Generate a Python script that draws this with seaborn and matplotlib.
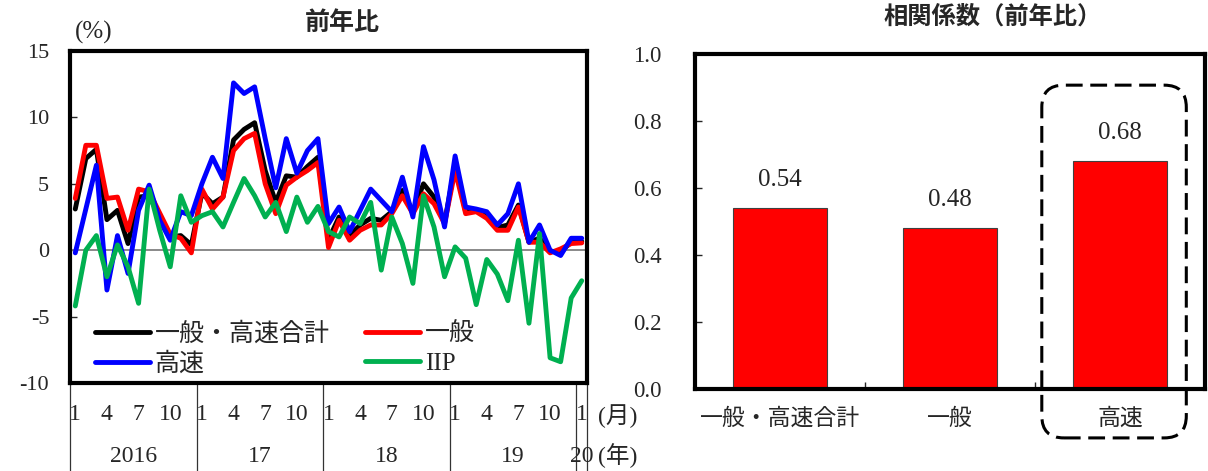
import numpy as np
import pandas as pd
import matplotlib
matplotlib.use("Agg")
import matplotlib.pyplot as plt
import seaborn as sns
from matplotlib.lines import Line2D
from matplotlib.patches import FancyBboxPatch
from matplotlib.transforms import blended_transform_factory, IdentityTransform

# ---- data: year-on-year change (%), Jan 2016 - Jan 2020 ----
SERIES_NAMES = ["一般・高速合計", "一般", "高速", "IIP"]
SERIES_COLORS = ["#000000", "#FF0000", "#0000FF", "#00B050"]

total = [3.1, 6.9, 7.6, 2.3, 3.0, 0.5, 4.0, 4.1, 2.5, 1.0, 1.1, 0.4,
         4.3, 3.5, 4.0, 8.3, 9.1, 9.6, 6.0, 3.6, 5.6, 5.5, 6.3, 7.0,
         0.8, 2.5, 1.1, 1.9, 2.4, 2.25, 2.9, 4.5, 2.9, 5.0, 4.0, 2.1,
         6.4, 2.9, 3.0, 2.6, 1.7, 1.9, 3.4, 0.6, 0.9, -0.1, -0.1, 0.6,
         0.65]
general = [3.9, 7.9, 7.9, 3.9, 4.0, 1.5, 4.6, 4.4, 2.8, 1.2, 0.9, -0.2,
           4.6, 3.1, 4.0, 7.5, 8.4, 8.8, 5.0, 2.75, 4.9, 5.5, 6.0, 6.6,
           0.2, 2.25, 0.75, 1.5, 1.9, 1.9, 2.75, 4.1, 2.75, 4.25, 3.5, 2.0,
           6.0, 2.75, 2.9, 2.4, 1.5, 1.5, 3.25, 0.6, 0.6, -0.2, 0.1, 0.5,
           0.55]
expressway = [-0.2, 3.1, 6.4, -3.0, 1.1, -1.75, 3.0, 4.9, 2.25, 0.75, 2.9, 2.6,
              5.0, 7.0, 5.4, 12.6, 11.8, 12.3, 8.4, 4.7, 8.4, 5.8, 7.5, 8.4,
              2.0, 3.25, 1.4, 3.0, 4.6, 3.75, 2.9, 5.5, 2.5, 7.8, 5.3, 1.75,
              7.1, 3.25, 3.1, 2.9, 1.9, 2.75, 5.0, 0.6, 1.9, 0.0, -0.4, 0.9,
              0.9]
iip = [-4.2, 0.0, 1.1, -2.0, 0.4, -1.25, -4.0, 4.6, 1.5, -1.25, 4.1, 2.1,
       2.6, 2.9, 1.75, 3.6, 5.4, 4.1, 2.5, 3.6, 1.4, 4.0, 2.1, 3.3,
       1.4, 1.0, 2.5, 2.0, 3.6, -1.5, 2.5, 0.5, -2.5, 4.1, 1.75, -2.0,
       0.25, -0.6, -4.1, -0.7, -1.8, -3.8, 0.75, -5.5, 1.25, -8.1, -8.4, -3.6,
       -2.3]

YEAR_LABELS = ["2016", "17", "18", "19", "20"]
MONTH_LABELS = ["1", "4", "7", "10"]
YTICKS = [-10, -5, 0, 5, 10, 15]
YTICK_LABELS = ["-10", "-5", "0", "5", "10", "15"]

# ---- data: correlation coefficients with IIP ----
CORR_LABELS = ["一般・高速合計", "一般", "高速"]
CORR_VALUES = [0.54, 0.48, 0.68]
CORR_TICKS = [0.0, 0.2, 0.4, 0.6, 0.8, 1.0]

# ---- style ----
sns.set_style("white")
plt.rcParams["font.family"] = ["Liberation Serif", "Noto Sans CJK JP"]
plt.rcParams["axes.unicode_minus"] = False

W, H = 1208, 471
fig = plt.figure(figsize=(W / 100, H / 100), dpi=100)
ax1 = fig.add_axes([70 / W, 1 - 383 / H, (587 - 70) / W, (383 - 51) / H])
ax2 = fig.add_axes([695 / W, 1 - 389 / H, (1205 - 695) / W, (389 - 54) / H])

# ---- left: monthly lines ----
n = len(total)
df = pd.DataFrame({
    "t": np.tile(np.arange(n), 4),
    "v": np.concatenate([total, general, expressway, iip]),
    "s": np.repeat(SERIES_NAMES, n),
})
ax1.axhline(0, color="#808080", lw=1.3, zorder=1)
sns.lineplot(data=df, x="t", y="v", hue="s", hue_order=SERIES_NAMES,
             palette=SERIES_COLORS, linewidth=3.5, estimator=None, sort=False,
             legend=False, ax=ax1)

ax1.set_xlim(-0.5, n - 0.5)
ax1.set_ylim(-10, 15)
ax1.set_xlabel("")
ax1.set_ylabel("")
ax1.set_yticks(YTICKS, labels=YTICK_LABELS)
ax1.tick_params(axis="y", direction="in", length=5, width=1, pad=15,
                labelsize=16, left=True)

n_years = len(YEAR_LABELS)
month_pos = [12 * y + m for y in range(n_years) for m in (0, 3, 6, 9) if 12 * y + m < n]
month_lab = [MONTH_LABELS[(p % 12) // 3] for p in month_pos]
ax1.set_xticks(month_pos, labels=month_lab)
ax1.tick_params(axis="x", length=0, pad=15, labelsize=17)

for sp in ax1.spines.values():
    sp.set_linewidth(3)
    sp.set_color("black")

# year separators and year labels below the axis
trans1 = blended_transform_factory(ax1.transData, ax1.transAxes)
edges = [12 * y - 0.5 for y in range(n_years)] + [n - 0.5]
for e in edges:
    ax1.plot([e, e], [0, -0.3], transform=trans1, color="#333333", lw=0.9,
             clip_on=False)
for k, lab in enumerate(YEAR_LABELS):
    c = (edges[k] + edges[k + 1]) / 2
    ax1.text(c, -0.22, lab, transform=trans1, ha="center", va="center",
             fontsize=17)
ax1.text(1.06, -0.10, "(月)", transform=ax1.transAxes, ha="center",
         va="center", fontsize=17)
ax1.text(1.06, -0.22, "(年)", transform=ax1.transAxes, ha="center",
         va="center", fontsize=17)
ax1.text(0.045, 1.055, "(%)", transform=ax1.transAxes, ha="center",
         va="center", fontsize=18)

handles = [Line2D([], [], color=c, lw=3.5) for c in SERIES_COLORS]
order = [0, 2, 1, 3]
ax1.legend([handles[i] for i in order], [SERIES_NAMES[i] for i in order],
           ncol=2, loc="lower left", bbox_to_anchor=(0.048, 0.022),
           frameon=False, fontsize=18, handlelength=2.2, handletextpad=0.2,
           columnspacing=1.4, labelspacing=0.26, borderaxespad=0.0,
           borderpad=0.0)

fig.text(342 / W, 1 - 23 / H, "前年比", ha="center", va="center",
         fontsize=18, fontweight="bold", family=["Noto Sans CJK JP"])

# ---- right: correlation bars ----
sns.barplot(x=CORR_LABELS, y=CORR_VALUES, color="#FF0000", saturation=1,
            width=0.55, edgecolor="#404040", linewidth=0.8, ax=ax2)
ax2.set_xlim(-0.5, len(CORR_VALUES) - 0.5)
ax2.set_ylim(0, 1)
ax2.set_xlabel("")
ax2.set_ylabel("")
ax2.set_yticks(CORR_TICKS, labels=[f"{t:.1f}" for t in CORR_TICKS])
ax2.tick_params(axis="y", direction="in", length=5, width=1, pad=24,
                labelsize=16.5, left=True)
ax2.tick_params(axis="x", which="major", length=0, pad=14, labelsize=16.5)
ax2.set_xticks([i + 0.5 for i in range(len(CORR_VALUES) - 1)], minor=True)
ax2.tick_params(axis="x", which="minor", direction="in", length=5, width=1,
                bottom=True)
for sp in ax2.spines.values():
    sp.set_linewidth(3)
    sp.set_color("black")

for i, v in enumerate(CORR_VALUES):
    ax2.annotate(f"{v:.2f}", xy=(i, v), xytext=(0, 20),
                 textcoords="offset points", ha="center", va="center",
                 fontsize=18)

# dashed rounded frame highlighting the expressway bar
trans2 = blended_transform_factory(ax2.transData, ax2.transAxes)
hi = len(CORR_VALUES) - 1
x0, y0 = trans2.transform((hi - 0.46, -0.146))
x1, y1 = trans2.transform((hi + 0.39, 0.907))
box = FancyBboxPatch((x0, y0), x1 - x0, y1 - y0,
                     boxstyle="round,pad=0,rounding_size=22",
                     transform=IdentityTransform(), fill=False, ec="black",
                     lw=2.2, ls=(0, (5.5, 2.5)), clip_on=False)
fig.add_artist(box)

fig.text(993 / W, 1 - 17 / H, "相関係数（前年比）", ha="center", va="center",
         fontsize=17.5, fontweight="bold", family=["Noto Sans CJK JP"])

fig.savefig("out.png", dpi=100)
